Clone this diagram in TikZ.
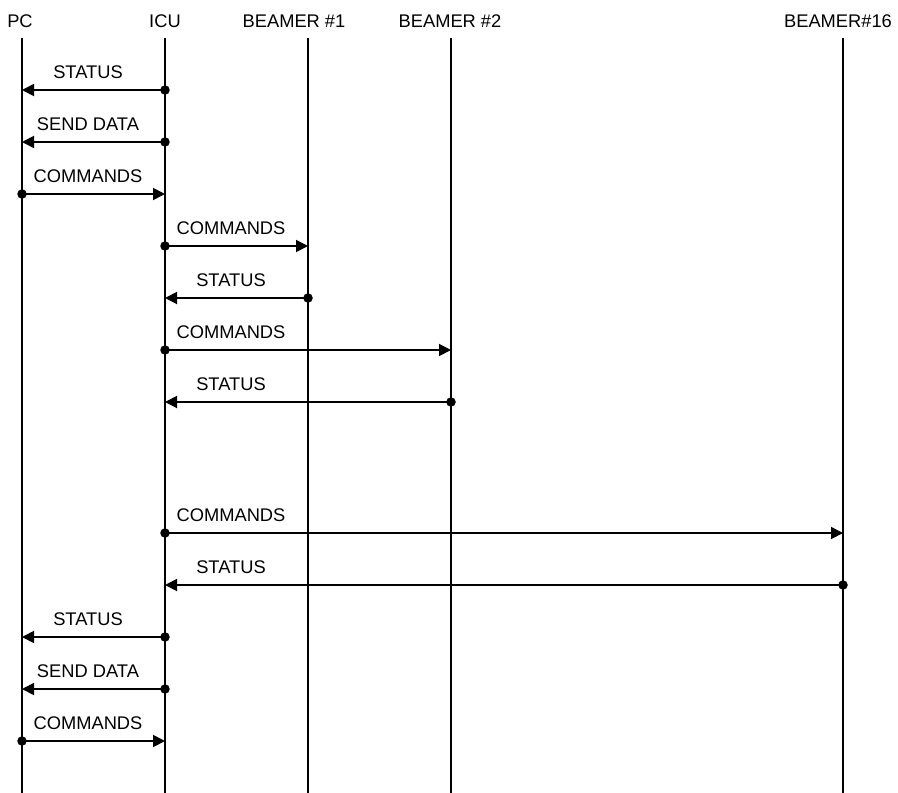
\documentclass[tikz,border=0pt]{standalone}
\usepackage{fontspec}
\setmainfont{Liberation Sans}
\usepackage{tikz}
\usetikzlibrary{arrows.meta}
\usetikzlibrary{calc}

\begin{document}
\begin{tikzpicture}[x=1pt,y=-1pt,
    life/.style={line width=1.9pt},
    msg/.style={line width=1.9pt,-{Triangle[length=12pt,width=12pt]}},
    dot/.style={circle,fill,inner sep=0pt,minimum size=9.5pt},
    lbl/.style={anchor=base,inner sep=0pt,font=\fontsize{18.3}{20}\selectfont},
    head/.style={anchor=base,inner sep=0pt,font=\fontsize{18.3}{20}\selectfont}]
\useasboundingbox (0,0) rectangle (898,793);
			% Lignes de vie
\coordinate (pc) at (22,38);
\coordinate (icu) at (165,38);
\coordinate (bm1) at (308,38);
\coordinate (bm2) at (451,38);
\coordinate (bm16) at (843,38);
\node[head] (pcT) at (20,27) {PC};
\node[head] (icuT) at (165,27) {ICU};
\node[head] (bm1T) at (294,27) {BEAMER \#1};
\node[head] (bm2T) at (450,27) {BEAMER \#2};
\node[head] (bm16T) at (838,27) {BEAMER\#16};
\draw [life] (pc) -- (pc |- 0,793);
\draw [life] (icu) -- (icu |- 0,793);
\draw [life] (bm1) -- (bm1 |- 0,793);
\draw [life] (bm2) -- (bm2 |- 0,793);
\draw [life] (bm16) -- (bm16 |- 0,793);
			% Messages
\draw [msg] (icu |- 0,90) node[dot] (d1) {} -- (pc |- 0,90);
\node[lbl] (t1) at ($(pc |- 0,78)+(66,0)$) {STATUS};
\draw [msg] (icu |- 0,142) node[dot] (d2) {} -- (pc |- 0,142);
\node[lbl] (t2) at ($(pc |- 0,130)+(66,0)$) {SEND DATA};
\draw [msg] (pc |- 0,194) node[dot] (d3) {} -- (icu |- 0,194);
\node[lbl] (t3) at ($(pc |- 0,182)+(66,0)$) {COMMANDS};
\draw [msg] (icu |- 0,246) node[dot] (d4) {} -- (bm1 |- 0,246);
\node[lbl] (t4) at ($(icu |- 0,234)+(66,0)$) {COMMANDS};
\draw [msg] (bm1 |- 0,298) node[dot] (d5) {} -- (icu |- 0,298);
\node[lbl] (t5) at ($(icu |- 0,286)+(66,0)$) {STATUS};
\draw [msg] (icu |- 0,350) node[dot] (d6) {} -- (bm2 |- 0,350);
\node[lbl] (t6) at ($(icu |- 0,338)+(66,0)$) {COMMANDS};
\draw [msg] (bm2 |- 0,402) node[dot] (d7) {} -- (icu |- 0,402);
\node[lbl] (t7) at ($(icu |- 0,390)+(66,0)$) {STATUS};
\draw [msg] (icu |- 0,533) node[dot] (d8) {} -- (bm16 |- 0,533);
\node[lbl] (t8) at ($(icu |- 0,521)+(66,0)$) {COMMANDS};
\draw [msg] (bm16 |- 0,585) node[dot] (d9) {} -- (icu |- 0,585);
\node[lbl] (t9) at ($(icu |- 0,573)+(66,0)$) {STATUS};
\draw [msg] (icu |- 0,637) node[dot] (d10) {} -- (pc |- 0,637);
\node[lbl] (t10) at ($(pc |- 0,625)+(66,0)$) {STATUS};
\draw [msg] (icu |- 0,689) node[dot] (d11) {} -- (pc |- 0,689);
\node[lbl] (t11) at ($(pc |- 0,677)+(66,0)$) {SEND DATA};
\draw [msg] (pc |- 0,741) node[dot] (d12) {} -- (icu |- 0,741);
\node[lbl] (t12) at ($(pc |- 0,729)+(66,0)$) {COMMANDS};
\end{tikzpicture}
\end{document}
